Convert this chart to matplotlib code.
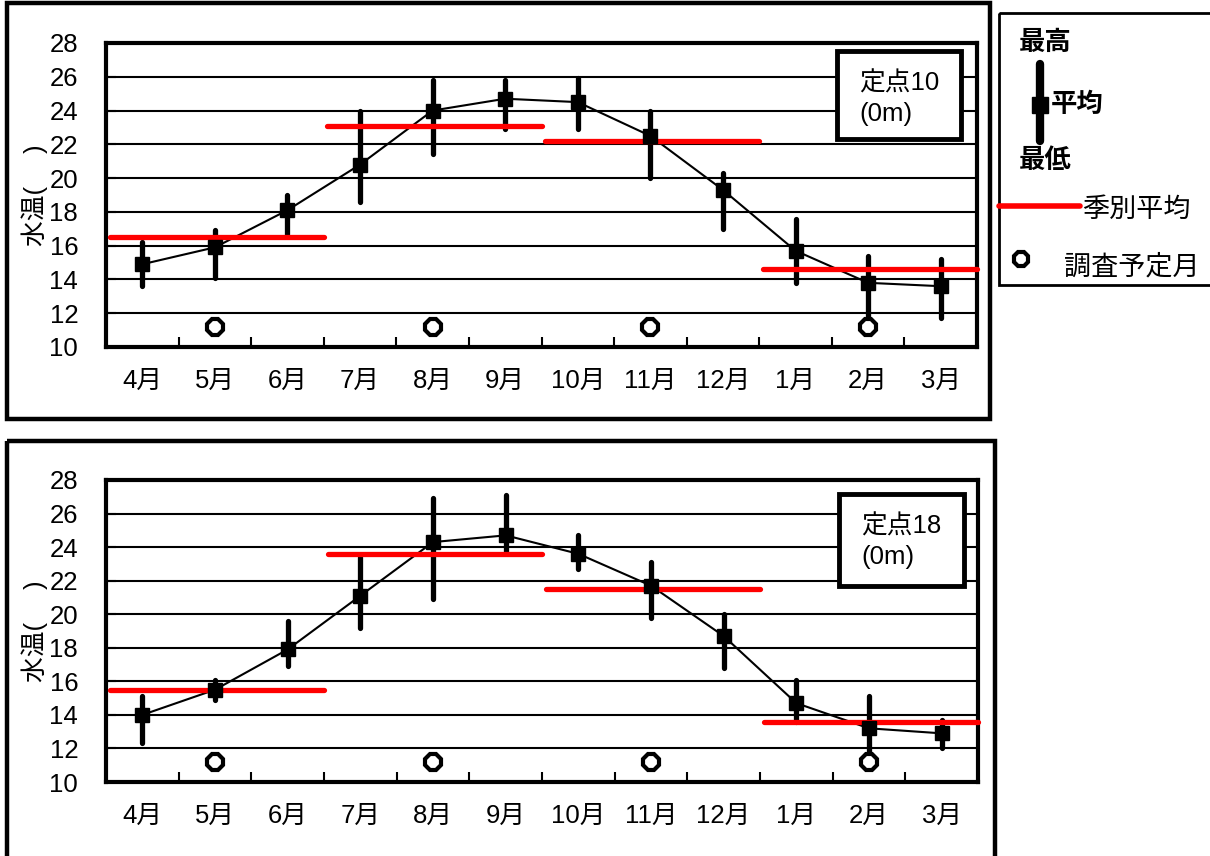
import numpy as np
import matplotlib
matplotlib.use("Agg")
import matplotlib.pyplot as plt
from matplotlib.patches import Rectangle

plt.rcParams["font.family"] = ["Liberation Sans", "Noto Sans CJK JP", "DejaVu Sans"]

# --- data ---
months = ["4月", "5月", "6月", "7月", "8月", "9月", "10月", "11月", "12月", "1月", "2月", "3月"]

st10_mean = [14.9, 15.9, 18.1, 20.8, 24.0, 24.7, 24.5, 22.5, 19.3, 15.7, 13.8, 13.6]
st10_max = [16.2, 16.9, 19.0, 24.0, 25.8, 25.8, 25.9, 24.0, 20.3, 17.6, 15.4, 15.2]
st10_min = [13.6, 14.1, 16.7, 18.6, 21.4, 22.9, 22.9, 20.0, 17.0, 13.8, 11.5, 11.7]
st10_season = [16.5, 23.1, 22.2, 14.6]

st18_mean = [14.0, 15.5, 17.9, 21.1, 24.3, 24.7, 23.6, 21.7, 18.7, 14.7, 13.2, 12.9]
st18_max = [15.1, 16.1, 19.6, 23.4, 26.9, 27.1, 24.7, 23.1, 20.0, 16.1, 15.1, 13.7]
st18_min = [12.3, 14.9, 16.9, 19.2, 20.9, 23.7, 22.7, 19.8, 16.8, 13.6, 11.5, 12.0]
st18_season = [15.5, 23.6, 21.5, 13.6]

survey_idx = [1, 4, 7, 10]   # 5月, 8月, 11月, 2月
survey_level = 11.2

W, H = 1210, 856
FS = 18.5


def px_rect(x0, y0, x1, y1):
    """pixel box (top-left origin) -> figure fraction [l, b, w, h]"""
    return [x0 / W, 1 - y1 / H, (x1 - x0) / W, (y1 - y0) / H]


def draw_panel(ax, mean, hi, lo, season):
    x = np.arange(len(months))
    ax.plot(x, mean, color="black", lw=1.5, zorder=3)
    ax.vlines(x, lo, hi, color="black", lw=3.8, capstyle="round", zorder=4)
    for i, v in enumerate(season):
        ax.plot([3 * i - 0.45, 3 * i + 2.5], [v, v], color="#ff0000", lw=3.8,
                solid_capstyle="round", clip_on=False, zorder=5)
    ax.plot(x, mean, ls="none", marker="s", ms=10, color="black", zorder=6)
    ax.plot(x[survey_idx], [survey_level] * len(survey_idx), ls="none", marker="8",
            ms=12.5, mfc="white", mec="black", mew=3, zorder=7)

    ax.set_xlim(-0.5, len(months) - 0.5)
    ax.set_ylim(10, 28)
    ax.set_yticks(np.arange(10, 29, 2))
    ax.set_xticks(x)
    ax.set_xticklabels(months)
    ax.set_xticks(np.arange(0.5, len(months) - 1, 1), minor=True)
    ax.tick_params(axis="x", which="major", length=0, pad=16, labelsize=FS)
    ax.tick_params(axis="x", which="minor", direction="in", length=7, width=1.5)
    ax.tick_params(axis="y", direction="in", length=7, width=1.5, pad=20, labelsize=FS)
    ax.grid(axis="y", color="black", lw=1.5)
    ax.set_axisbelow(True)
    for s in ax.spines.values():
        s.set_linewidth(3)
    ax.set_ylabel("水温(\u3000 )", fontsize=FS, labelpad=1)


fig = plt.figure(figsize=(W / 100, H / 100), dpi=100)

ax_top = fig.add_axes(px_rect(106, 43, 977, 347))
draw_panel(ax_top, st10_mean, st10_max, st10_min, st10_season)

ax_bot = fig.add_axes(px_rect(106, 480, 978, 782))
draw_panel(ax_bot, st18_mean, st18_max, st18_min, st18_season)

# overlay in pixel units for frames, station boxes and the legend
ov = fig.add_axes([0, 0, 1, 1], zorder=10)
ov.set_xlim(0, W)
ov.set_ylim(H, 0)
ov.axis("off")
ov.patch.set_alpha(0)

ov.add_patch(Rectangle((7, 3), 983, 416, fill=False, lw=3.2, ec="black"))
ov.add_patch(Rectangle((7, 441), 988, 420, fill=False, lw=3.2, ec="black", clip_on=False))

for (x0, y0, x1, y1), name in [((837, 51, 961, 139), "定点10"), ((839, 494, 964, 586), "定点18")]:
    ov.add_patch(Rectangle((x0, y0), x1 - x0, y1 - y0, fc="white", ec="black", lw=3.5))
    ov.text(x0 + 22, y0 + 32, name, fontsize=FS, va="center", ha="left")
    ov.text(x0 + 22, y0 + 63, "(0m)", fontsize=FS, va="center", ha="left")

# legend
ov.add_patch(Rectangle((999, 13), 220, 272, fill=False, lw=2, ec="black", clip_on=False))
ov.text(1045, 43, "最高", fontsize=19, ha="center", va="center", weight="bold")
ov.plot([1040, 1040], [64, 141], color="black", lw=6, solid_capstyle="round")
ov.plot([1040], [105], marker="s", ms=12, color="black")
ov.text(1051, 105, "平均", fontsize=19, ha="left", va="center", weight="bold")
ov.text(1045, 161, "最低", fontsize=19, ha="center", va="center", weight="bold")
ov.plot([999, 1080], [206, 206], color="#ff0000", lw=4, solid_capstyle="round")
ov.text(1082, 210, "季別平均", fontsize=19.5, ha="left", va="center")
ov.plot([1021], [259], marker="8", ms=11, mfc="white", mec="black", mew=3)
ov.text(1064, 267, "調査予定月", fontsize=19.5, ha="left", va="center")

fig.savefig("out.png", dpi=100)
